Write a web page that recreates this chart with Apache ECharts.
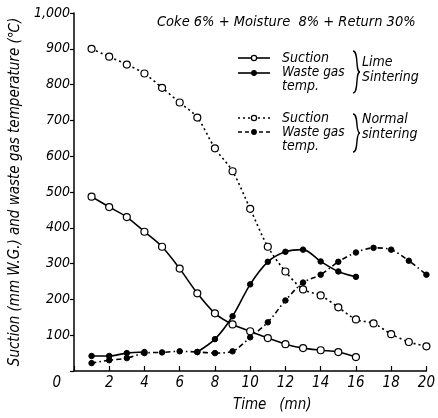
<!DOCTYPE html>
<html><head><meta charset="utf-8">
<script src="https://cdn.jsdelivr.net/npm/echarts@6/dist/echarts.min.js"></script>
<style>html,body{margin:0;padding:0;background:#fff}#c{width:438px;height:418px}</style>
</head><body><div id="c"></div>
<script>
var timesLime = [1,2,3,4,5,6,7,8,9,10,11,12,13,14,15,16];
var timesNormal = [1,2,3,4,5,6,7,8,9,10,11,12,13,14,15,16,17,18,19,20];
var limeSuction = [487,458,430,389,347,286,217,161,130,111,92,75,64,58,53,39];
var limeWaste = [42,42,50,53,null,null,53,89,153,242,305,333,339,306,278,263];
var normalSuction = [900,878,856,831,791,750,708,622,558,453,347,278,228,211,178,144,133,103,81,69];
var normalWaste = [22,30,36,50,52,55,53,50,55,94,136,197,247,269,305,331,344,339,308,269];
var xTicks = [0,2,4,6,8,10,12,14,16,18,20];
var yTicks = [0,100,200,300,400,500,600,700,800,900,1000];

function pairs(xs, ys){ return xs.map(function(x,i){ return ys[i]==null ? [x,null] : [x, ys[i]]; }); }

var FONT = '"Liberation Sans Narrow","DejaVu Sans Condensed",sans-serif';
var chart = echarts.init(document.getElementById('c'), null, {renderer:'canvas'});

function legendRow(y, type, filled){
  var els = [];
  els.push({type:'line', shape:{x1:238,y1:y,x2:270,y2:y}, style:{stroke:'#000', lineWidth:1.6, lineDash: type}});
  els.push({type:'circle', shape:{cx:254, cy:y, r: filled?2.3:2.6}, style:{fill: filled?'#000':'#fff', stroke:'#000', lineWidth:1.2}});
  return els;
}
function txt(x,y,s,size){ return {type:'text', x:x, y:y, style:{text:s, fill:'#000', font:'italic '+(size||14)+'px '+FONT, textVerticalAlign:'middle'}}; }
function brace(x,y,h){
  var m=h/2;
  return [
    {type:'bezierCurve', shape:{x1:x, y1:y, cpx1:x+6, cpy1:y, cpx2:x+2, cpy2:y+m, x2:x+7, y2:y+m}, style:{fill:null, stroke:'#000', lineWidth:1.4}},
    {type:'bezierCurve', shape:{x1:x+7, y1:y+m, cpx1:x+2, cpy1:y+m, cpx2:x+6, cpy2:y+h, x2:x, y2:y+h}, style:{fill:null, stroke:'#000', lineWidth:1.4}}
  ];
}

var graphics = [];
graphics = graphics.concat(legendRow(58, null, false));
graphics = graphics.concat(legendRow(73, null, true));
graphics = graphics.concat(legendRow(118, [2,3], false));
graphics = graphics.concat(legendRow(132, [4,3], true));
graphics.push(txt(282,58,'Suction'));
graphics.push(txt(282,72,'Waste gas',13.5));
graphics.push(txt(282,86,'temp.'));
graphics.push(txt(282,118,'Suction'));
graphics.push(txt(282,132,'Waste gas',13.5));
graphics.push(txt(282,146,'temp.'));
graphics = graphics.concat(brace(353,51,42));
graphics = graphics.concat(brace(353,114,38));
graphics.push(txt(362,62,'Lime'));
graphics.push(txt(362,77,'Sintering'));
graphics.push(txt(362,119,'Normal'));
graphics.push(txt(362,134,'sintering'));
graphics.push(txt(157,22,'Coke 6% + Moisture  8% + Return 30%', 14.5));

var option = {
  animation:false,
  backgroundColor:'#fff',
  grid:{left:61, right:6, top:13, bottom:45},
  xAxis:{type:'value', min:0, max:20, interval:2,
    axisLine:{lineStyle:{color:'#000', width:1.5}},
    axisTick:{inside:true, length:5, lineStyle:{color:'#000', width:1.2}},
    splitLine:{show:false},
    axisLabel:{color:'#000', fontFamily:FONT, fontStyle:'italic', fontSize:15, margin:5,
      alignMinLabel:'right', alignMaxLabel:'center',
      formatter:function(v){ return v===0 ? '0   ' : String(v); }},
    name:'Time   (mn)', nameLocation:'middle', nameGap:27,
    nameTextStyle:{color:'#000', fontFamily:FONT, fontStyle:'italic', fontSize:15, padding:[0,0,0,44]}
  },
  yAxis:{type:'value', min:0, max:1000, interval:100,
    axisLine:{show:true, lineStyle:{color:'#000', width:1.5}},
    axisTick:{show:true, length:4, lineStyle:{color:'#000', width:1.2}},
    splitLine:{show:false},
    axisLabel:{color:'#000', fontFamily:FONT, fontStyle:'italic', fontSize:14, margin:4,
      formatter:function(v){ return v===0 ? '' : (v===1000 ? '1,000' : String(v)); }},
    name:'Suction (mm W.G.) and waste gas temperature (℃)', nameLocation:'middle', nameRotate:90, nameGap:38,
    nameTextStyle:{color:'#000', fontFamily:FONT, fontStyle:'italic', fontSize:15}
  },
  series:[
    {type:'line', data:pairs(timesLime, limeSuction), smooth:0.3, symbol:'circle', symbolSize:7,
      itemStyle:{color:'#fff', borderColor:'#000', borderWidth:1.2}, lineStyle:{color:'#000', width:1.6}, z:3},
    {type:'line', data:pairs(timesLime, limeWaste), smooth:0.3, symbol:'circle', symbolSize:5.5, connectNulls:false,
      itemStyle:{color:'#000', borderColor:'#000'}, lineStyle:{color:'#000', width:1.6}, z:3},
    {type:'line', data:pairs(timesNormal, normalSuction), smooth:0.3, symbol:'circle', symbolSize:7,
      itemStyle:{color:'#fff', borderColor:'#000', borderWidth:1.2}, lineStyle:{color:'#000', width:1.6, type:[2,3]}, z:2},
    {type:'line', data:pairs(timesNormal, normalWaste), smooth:0.3, symbol:'circle', symbolSize:5.5,
      itemStyle:{color:'#000', borderColor:'#000'}, lineStyle:{color:'#000', width:1.6, type:[5,3,1.5,3]}, z:2}
  ],
  graphic:graphics
};
chart.setOption(option);
</script></body></html>
